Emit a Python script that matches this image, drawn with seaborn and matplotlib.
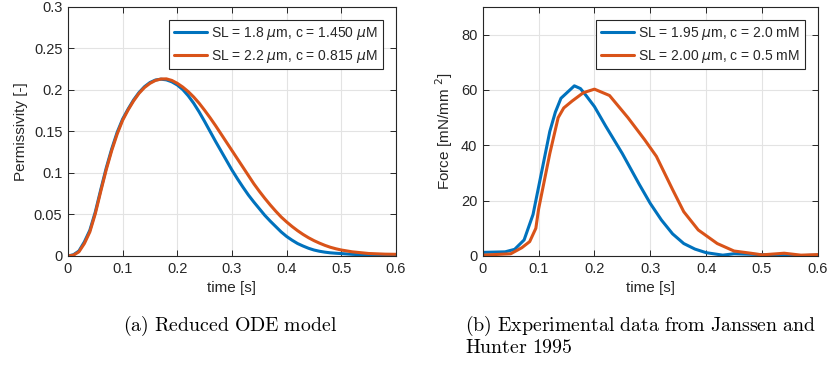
import numpy as np
import pandas as pd
import matplotlib
matplotlib.use('Agg')
import matplotlib.pyplot as plt
import seaborn as sns

# ------------------------------
# Data
# ------------------------------
# (a) reduced ODE model, permissivity
t_model = [0, .01, .02, .03, .04, .05, .06, .07, .08, .09, .10, .11, .12, .13, .14, .15, .16, .17, .18, .19,
           .20, .21, .22, .23, .24, .25, .26, .27, .28, .29, .30, .31, .32, .33, .34, .35, .36, .37, .38, .39,
           .40, .41, .42, .43, .44, .45, .46, .47, .48, .49, .50, .52, .55, .58, .60]
perm_18 = [0, .0015, .006, .017, .031, .053, .080, .106, .129, .149, .165, .177, .188, .197, .204, .209, .212, .213, .2122, .2098,
           .206, .2005, .193, .184, .1735, .162, .150, .138, .1265, .115, .1035, .093, .083, .0735, .065, .057, .049, .042, .0355, .029,
           .0235, .019, .015, .012, .0093, .0072, .0057, .0046, .0038, .0033, .0029, .002, .0011, .0004, .0002]
perm_22 = [0, .001, .005, .015, .029, .051, .078, .104, .127, .147, .1635, .176, .1868, .196, .203, .208, .2115, .2132, .2134, .2115,
           .208, .2035, .198, .1915, .184, .1755, .1665, .157, .147, .137, .127, .117, .107, .097, .087, .078, .0695, .0615, .054, .047,
           .041, .0355, .0305, .026, .022, .0185, .0155, .0128, .0105, .0087, .0072, .005, .003, .0022, .002]
labels_model = [r'SL = 1.8 $\mu$m, c = 1.450 $\mu$M', r'SL = 2.2 $\mu$m, c = 0.815 $\mu$M']

# (b) experimental data, Janssen and Hunter 1995
t_exp_195 = [0, .04, .057, .074, .09, .10, .12, .13, .14, .164, .175, .185, .20, .22, .25, .28,
             .30, .32, .34, .36, .38, .40, .43, .45, .50, .55, .60]
force_195 = [1.3, 1.5, 2.4, 5.8, 15, 25, 45, 52, 57, 61.5, 60.5, 58, 54, 47, 37, 26,
             19, 13, 8, 4.5, 2.5, 1.2, 0.3, 0.8, 0.5, 0, 0.3]
t_exp_200 = [0, .05, .07, .084, .095, .10, .12, .135, .145, .16, .18, .20, .227, .26, .29, .311,
             .34, .36, .386, .42, .45, .48, .50, .54, .57, .60]
force_200 = [0.3, 0.8, 3, 5.2, 10, 17, 37, 50, 53.5, 56, 59, 60.3, 58, 50, 42, 36,
             24, 16, 9.4, 4.5, 1.8, 1, 0.4, 1, 0.3, 0.5]
labels_exp = [r'SL = 1.95 $\mu$m, c = 2.0 mM', r'SL = 2.00 $\mu$m, c = 0.5 mM']

colors = ['#0072BD', '#D95319']

df_a = pd.concat([
    pd.DataFrame({'t': t_model, 'y': perm_18, 'serie': labels_model[0]}),
    pd.DataFrame({'t': t_model, 'y': perm_22, 'serie': labels_model[1]}),
])
df_b = pd.concat([
    pd.DataFrame({'t': t_exp_195, 'y': force_195, 'serie': labels_exp[0]}),
    pd.DataFrame({'t': t_exp_200, 'y': force_200, 'serie': labels_exp[1]}),
])

# ------------------------------
# Style (MATLAB-like)
# ------------------------------
sns.set_theme(style='whitegrid')
plt.rcParams['font.family'] = ['Liberation Sans', 'DejaVu Sans']
plt.rcParams['mathtext.fontset'] = 'dejavusans'

fig = plt.figure(figsize=(8.31, 3.67), dpi=100)
ax1 = fig.add_axes([0.0818, 0.3025, 0.3947, 0.6785])
ax2 = fig.add_axes([0.581, 0.3025, 0.403, 0.6785])

sns.lineplot(data=df_a, x='t', y='y', hue='serie', palette=colors, linewidth=2.2,
             sort=False, ax=ax1)
sns.lineplot(data=df_b, x='t', y='y', hue='serie', palette=colors, linewidth=2.2,
             sort=False, ax=ax2)

for ax in (ax1, ax2):
    ax.set_xlim(0, 0.6)
    ax.set_xticks(np.arange(0, 0.61, 0.1))
    ax.set_xticklabels(['0', '0.1', '0.2', '0.3', '0.4', '0.5', '0.6'])
    ax.set_xlabel('time [s]', fontsize=11, labelpad=4, color='#262626')
    ax.grid(True, color='#e3e3e3', linewidth=0.8)
    for s in ax.spines.values():
        s.set_color('#262626')
        s.set_linewidth(0.8)
    ax.tick_params(direction='in', length=4, width=0.7, colors='#262626',
                   labelsize=10.5, top=True, right=True, bottom=True, left=True, pad=4)
    leg = ax.legend(loc='upper right', fontsize=10, frameon=True, fancybox=False,
                    handlelength=2.4, borderaxespad=0.95, borderpad=0.35, labelspacing=0.4,
                    handletextpad=0.3)
    leg.get_frame().set_edgecolor('#262626')
    leg.get_frame().set_linewidth(0.8)
    leg.get_frame().set_alpha(1)

ax1.set_ylim(0, 0.3)
ax1.set_yticks([0, 0.05, 0.1, 0.15, 0.2, 0.25, 0.3])
ax1.set_yticklabels(['0', '0.05', '0.1', '0.15', '0.2', '0.25', '0.3'])
ax1.set_ylabel('Permissivity [-]', fontsize=11, labelpad=4, color='#262626')

ax2.set_ylim(0, 90)
ax2.set_yticks([0, 20, 40, 60, 80])
ax2.set_ylabel(r'Force [mN/mm $^{2}$]', fontsize=11, labelpad=4, color='#262626')

# captions in a serif (Computer Modern-like) face
cap = dict(fontsize=14.3, color='black', math_fontfamily='cm')
fig.text(0.277, 0.113, r'$\mathrm{(a)\ Reduced\ ODE\ model}$', ha='center', va='center', **cap)
fig.text(0.5596, 0.113, r'$\mathrm{(b)\ Experimental\ data\ from\ Janssen\ and}$', ha='left', va='center', **cap)
fig.text(0.5596, 0.053, r'$\mathrm{Hunter\ 1995}$', ha='left', va='center', **cap)

fig.savefig('out.png', dpi=100)
